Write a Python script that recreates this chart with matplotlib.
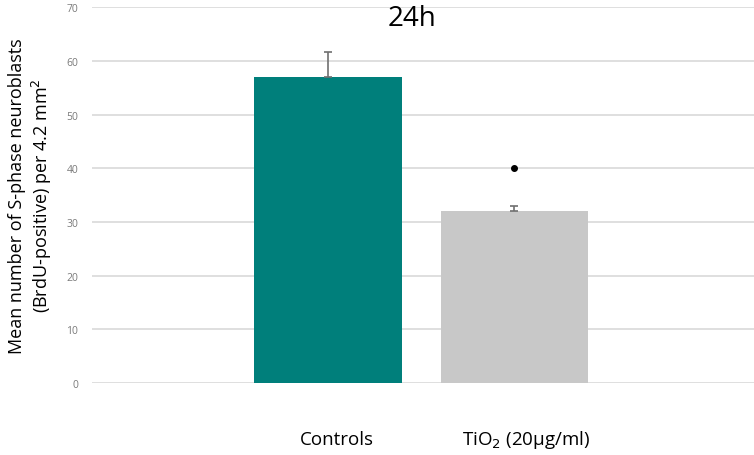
import numpy as np
import matplotlib
matplotlib.use("Agg")
import matplotlib.pyplot as plt

plt.rcParams["font.family"] = ["Open Sans", "DejaVu Sans"]

groups = ["Controls", "TiO$_2$ (20µg/ml)"]
means = [57, 32]
errors_up = [4.7, 0.9]
signif = [None, 40]
y_ticks = [0, 10, 20, 30, 40, 50, 60, 70]

bar_colors = ["#007f7b", "#c8c8c8"]

fig = plt.figure(figsize=(7.54, 4.56), dpi=100)
ax = fig.add_axes([0.122, 0.158, 0.878, 0.824])

x = np.arange(len(groups))
ax.bar(x, means, width=0.79, color=bar_colors, zorder=2)
ax.errorbar(x, means, yerr=[np.zeros(len(means)), errors_up], fmt="none",
            ecolor="#707070", elinewidth=1.2, capsize=3, capthick=1.2, zorder=3)
for xi, s in zip(x, signif):
    if s is not None:
        ax.plot(xi, s, "o", color="black", markersize=4, zorder=4)

ax.set_xlim(-1.265, 2.284)
ax.set_ylim(0, 70)
ax.set_yticks(y_ticks)
ax.set_yticklabels([str(t) for t in y_ticks], fontsize=7.5, color="#7a7a7a")
ax.tick_params(axis="y", length=0, pad=10)
ax.set_xticks([])
ax.grid(axis="y", color="#d9d9d9", linewidth=1.2, zorder=0)
for sp in ax.spines.values():
    sp.set_visible(False)

ax.set_ylabel("Mean number of S-phase neuroblasts\n(BrdU-positive) per 4.2 mm$^2$",
              fontsize=13, linespacing=1.2)
ax.yaxis.set_label_coords(-0.058, 0.5)

# category labels below the axis
label_x = [337 / 754, 526 / 754]
for lx, g in zip(label_x, groups):
    fig.text(lx, 1 - 440 / 456, g, ha="center", va="center", fontsize=13.5)

fig.text(412 / 754, 1 - 19 / 456, "24h", ha="center", va="center", fontsize=20)

fig.savefig("out.png", dpi=100)
